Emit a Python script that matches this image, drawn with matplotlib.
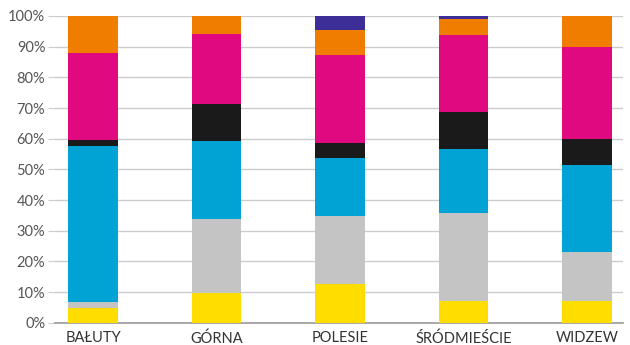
import matplotlib
matplotlib.use("Agg")
import matplotlib.pyplot as plt
import numpy as np

categories = ["BAŁUTY", "GÓRNA", "POLESIE", "ŚRÓDMIEŚCIE", "WIDZEW"]
yellow = [4.7, 9.7, 12.5, 7.1, 7.1]
gray = [1.9, 24.1, 22.3, 28.6, 15.8]
blue = [51.1, 25.4, 19.0, 21.0, 28.5]
black = [1.9, 12.2, 4.7, 12.1, 8.6]
magenta = [28.4, 22.8, 28.8, 25.1, 29.9]
orange = [12.0, 5.8, 8.2, 5.2, 10.1]
purple = [0.0, 0.0, 4.5, 0.9, 0.0]

series = [yellow, gray, blue, black, magenta, orange, purple]
colors = ["#FFDD00", "#C4C4C4", "#00A3D4", "#1A1A1A", "#E0097F", "#F07D00", "#3D2D96"]

plt.rcParams['font.family'] = ['Lato', 'DejaVu Sans']

fig = plt.figure(figsize=(6.3, 3.45), dpi=100)
ax = fig.add_axes([55/630, (345-322.7)/345, (623-55)/630, (322.7-16)/345])

x = np.arange(len(categories))
bottom = np.zeros(len(categories))
for vals, c in zip(series, colors):
    v = np.array(vals)
    ax.bar(x, v, bottom=bottom, width=0.4, color=c, edgecolor='none', zorder=3)
    bottom += v

ax.set_xlim(-0.308, 4.29)
ax.set_ylim(0, 100)
ax.set_yticks(np.arange(0, 101, 10))
ax.set_yticklabels([f"{t}%" for t in range(0, 101, 10)])
ax.yaxis.grid(True, color="#CCCCCC", linewidth=1, zorder=0)
ax.set_xticks(x)
ax.set_xticklabels(categories)
for s in ["top", "right", "left"]:
    ax.spines[s].set_visible(False)
ax.spines["bottom"].set_color("#999999")
ax.spines["bottom"].set_linewidth(1.2)
ax.tick_params(axis='y', length=5, color="#CCCCCC", labelcolor="#555555", labelsize=10.5, pad=2)
ax.tick_params(axis='x', length=0, labelcolor="#333333", labelsize=10.5, pad=6)

fig.savefig("out.png", dpi=100)
